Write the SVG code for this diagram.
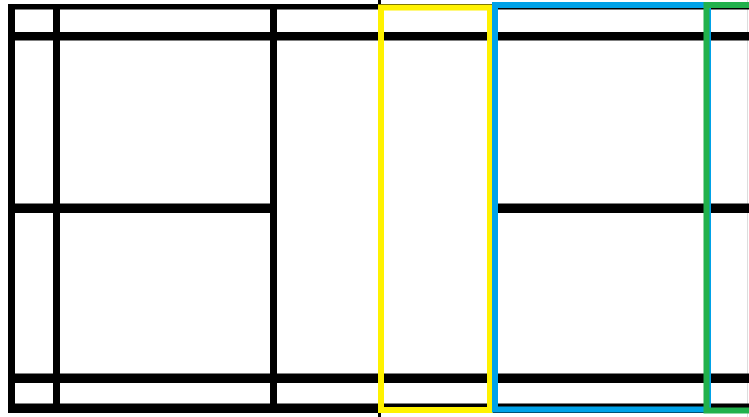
<svg xmlns="http://www.w3.org/2000/svg" width="749" height="417" viewBox="0 0 749 417">
<style>
.ln{fill:#000}
.box{fill:none;stroke-width:6}
</style>
<rect width="749" height="417" fill="#fff"/>
<g id="court">
<rect x="747" y="0" width="1" height="417" fill="#ddd"/>
<rect class="ln" x="8" y="4" width="741" height="5.5"/>
<rect class="ln" x="8" y="32" width="741" height="8.5"/>
<rect class="ln" x="8" y="203.5" width="269" height="9.5"/>
<rect class="ln" x="498" y="203.5" width="251" height="9.5"/>
<rect class="ln" x="8" y="373.5" width="741" height="9.5"/>
<rect class="ln" x="8" y="403.5" width="741" height="9.5"/>
<rect class="ln" x="8" y="4" width="7" height="409"/>
<rect class="ln" x="53" y="4" width="7" height="409"/>
<rect class="ln" x="270" y="4" width="7" height="409"/>
<rect class="ln" x="378" y="0" width="3" height="417"/>
</g>
<g id="yellow-zone"><rect class="box" x="381" y="7.5" width="109" height="402.5" stroke="#FFF200"/></g>
<g id="blue-zone"><rect class="box" x="495" y="5" width="213" height="404.5" stroke="#00A2E8"/></g>
<g id="green-zone"><rect class="box" x="706.5" y="5" width="60" height="405.5" stroke="#22B14C" stroke-width="7"/></g>
</svg>
